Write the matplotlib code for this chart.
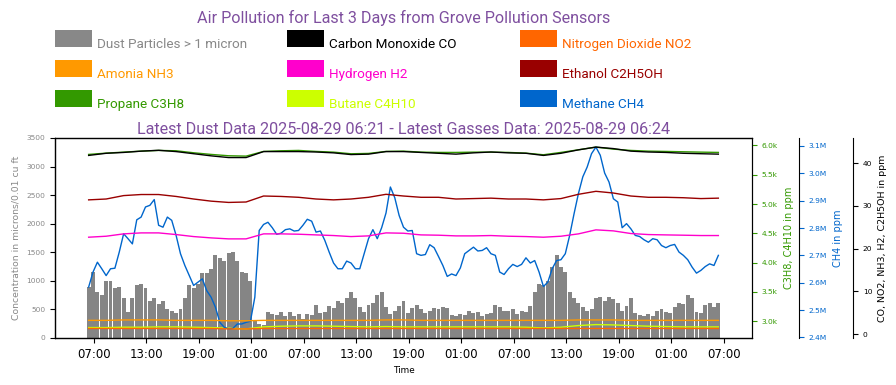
import numpy as np
import pandas as pd
import matplotlib
matplotlib.use('Agg')
import matplotlib.pyplot as plt
import matplotlib.dates as mdates
from matplotlib.patches import Rectangle
from matplotlib.ticker import FuncFormatter

# ---- data ----
start = pd.Timestamp('2025-08-26 06:24')
t_fine = pd.date_range(start, periods=145, freq='30min')   # dust + methane
t_gas = pd.date_range(start, periods=37, freq='2h')        # slow gases

dust = [900, 1150, 800, 750, 1000, 1000, 880, 900, 700, 450, 700, 930, 950, 880, 650, 700, 600, 650, 500, 480, 430, 500, 700, 920,
        870, 950, 1130, 1130, 1200, 1450, 1400, 1350, 1480, 1500, 1350, 1150, 1130, 1000, 300, 250, 220, 450, 420, 400, 450, 380, 450, 380,
        420, 330, 420, 400, 580, 430, 450, 560, 520, 650, 620, 700, 800, 700, 550, 450, 580, 620, 750, 800, 550, 420, 480, 560,
        650, 430, 520, 580, 500, 430, 480, 520, 500, 550, 520, 400, 380, 420, 400, 470, 430, 450, 380, 420, 430, 580, 550, 480,
        480, 500, 420, 470, 450, 560, 800, 950, 920, 1000, 1250, 1450, 1250, 1150, 800, 700, 620, 550, 480, 500, 700, 720, 650, 720, 680,
        620, 480, 560, 700, 430, 400, 380, 420, 380, 480, 500, 450, 430, 550, 620, 600, 750, 700, 450, 430, 580, 620, 550, 620]

# methane in millions of ppm
ch4_m = [2.584, 2.639, 2.675, 2.651, 2.626, 2.651, 2.653, 2.712, 2.779, 2.761, 2.742, 2.830, 2.840, 2.877, 2.883, 2.904, 2.810, 2.803, 2.840, 2.828, 2.773, 2.706, 2.663, 2.626,
         2.590, 2.602, 2.614, 2.571, 2.547, 2.510, 2.455, 2.437, 2.431, 2.433, 2.449, 2.449, 2.455, 2.459, 2.547, 2.791, 2.813, 2.821, 2.801, 2.777, 2.781, 2.794, 2.797, 2.789,
         2.791, 2.810, 2.832, 2.825, 2.785, 2.789, 2.755, 2.712, 2.672, 2.651, 2.651, 2.679, 2.672, 2.651, 2.651, 2.706, 2.761, 2.794, 2.761, 2.801, 2.855, 2.950, 2.911, 2.846,
         2.803, 2.789, 2.791, 2.706, 2.700, 2.703, 2.739, 2.728, 2.696, 2.663, 2.623, 2.632, 2.626, 2.654, 2.706, 2.718, 2.730, 2.716, 2.718, 2.728, 2.706, 2.700, 2.639, 2.630,
         2.651, 2.667, 2.659, 2.667, 2.691, 2.672, 2.681, 2.639, 2.586, 2.602, 2.651, 2.681, 2.684, 2.706, 2.773, 2.852, 2.926, 2.987, 3.023, 3.072, 3.096, 3.066, 3.001, 2.968, 2.907,
         2.895, 2.801, 2.816, 2.797, 2.773, 2.769, 2.757, 2.748, 2.761, 2.757, 2.736, 2.728, 2.736, 2.740, 2.712, 2.700, 2.684, 2.657, 2.635, 2.645, 2.659, 2.669, 2.663, 2.700]

co = [41.8, 42.3, 42.5, 42.8, 43.0, 42.7, 42.2, 41.7, 41.3, 41.3, 42.7, 42.7, 42.7, 42.6, 42.4, 42.0, 42.1, 42.7, 42.7,
      42.5, 42.3, 42.1, 42.4, 42.6, 42.4, 42.3, 41.8, 42.3, 43.1, 43.75, 43.4, 42.8, 42.6, 42.5, 42.3, 42.2, 42.1]
c2h5oh = [31.4, 31.6, 32.4, 32.65, 32.65, 32.2, 31.6, 31.1, 30.8, 30.9, 32.3, 32.2, 32.0, 31.6, 31.4, 31.6, 32.0, 32.7, 32.3,
          32.0, 32.0, 31.6, 31.7, 31.8, 31.6, 31.6, 31.4, 31.7, 32.7, 33.4, 33.0, 32.3, 32.0, 32.0, 31.9, 31.7, 31.8]
h2 = [22.66, 22.89, 23.44, 23.67, 23.67, 23.28, 22.81, 22.5, 22.27, 22.27, 23.44, 23.44, 23.36, 23.2, 23.05, 22.81, 22.97, 23.67, 23.59,
      23.2, 23.13, 22.97, 22.97, 23.05, 22.89, 22.81, 22.66, 22.89, 23.44, 24.38, 24.14, 23.52, 23.28, 23.2, 23.13, 23.05, 23.05]
nh3 = [3.2, 3.2, 3.3, 3.3, 3.3, 3.2, 3.2, 3.2, 3.1, 3.1, 3.2, 3.2, 3.2, 3.2, 3.2, 3.2, 3.2, 3.3, 3.3,
       3.2, 3.2, 3.2, 3.2, 3.2, 3.2, 3.2, 3.2, 3.2, 3.3, 3.3, 3.3, 3.2, 3.2, 3.2, 3.2, 3.2, 3.2]
no2 = [1.3, 1.3, 1.3, 1.3, 1.3, 1.3, 1.3, 1.3, 1.2, 1.2, 1.3, 1.3, 1.3, 1.3, 1.3, 1.3, 1.3, 1.3, 1.3,
       1.3, 1.3, 1.3, 1.3, 1.3, 1.3, 1.3, 1.3, 1.3, 1.3, 1.3, 1.3, 1.3, 1.3, 1.3, 1.3, 1.3, 1.3]
c3h8 = [5847, 5869, 5886, 5903, 5915, 5909, 5875, 5847, 5824, 5818, 5898, 5909, 5915, 5898, 5886, 5858, 5864, 5898, 5903,
        5886, 5881, 5881, 5886, 5886, 5881, 5869, 5841, 5881, 5926, 5972, 5937, 5915, 5903, 5898, 5892, 5886, 5881]
c4h10 = [2892, 2892, 2898, 2898, 2903, 2903, 2898, 2892, 2881, 2869, 2903, 2915, 2920, 2920, 2915, 2909, 2903, 2909, 2903,
         2903, 2903, 2903, 2903, 2903, 2903, 2898, 2886, 2898, 2926, 2943, 2937, 2926, 2915, 2909, 2903, 2903, 2903]

legend_rows = [
    [('Dust Particles > 1 micron', '#888888'), ('Carbon Monoxide CO', '#000000'), ('Nitrogen Dioxide NO2', '#ff6600')],
    [('Amonia NH3', '#ff9900'), ('Hydrogen H2', '#ff00cc'), ('Ethanol C2H5OH', '#990000')],
    [('Propane C3H8', '#339900'), ('Butane C4H10', '#ccff00'), ('Methane CH4', '#0066cc')],
]

title = 'Air Pollution for Last 3 Days from Grove Pollution Sensors'
subtitle = 'Latest Dust Data 2025-08-29 06:21 - Latest Gasses Data: 2025-08-29 06:24'
purple = '#7f4f9f'

W, H = 896, 385
fig = plt.figure(figsize=(W / 100, H / 100), dpi=100)
ax = fig.add_axes([55 / W, 47 / H, 697 / W, 200 / H])

# dust bars
ax.bar(t_fine, dust, width=0.9 / 48, color='#858585', linewidth=0)
ax.set_ylim(0, 3500)
ax.set_ylabel('Concentration in microns/0.01 cu ft', color='#888888', fontsize=6.7)
ax.tick_params(axis='y', labelsize=5.4, labelcolor='#888888')
ax.tick_params(axis='x', labelsize=8.4)
ax.set_xlabel('Time', fontsize=6.4)
ax.xaxis.set_major_locator(mdates.HourLocator(byhour=[1, 7, 13, 19]))
ax.xaxis.set_major_formatter(mdates.DateFormatter('%H:%M'))
ax.set_title(subtitle, color=purple, fontsize=11.6, family='Roboto', pad=3)

# propane / butane
ax2 = ax.twinx()
ax2.plot(t_gas, c3h8, color='#339900', lw=1)
ax2.plot(t_gas, c4h10, color='#ccff00', lw=1)
ax2.yaxis.set_major_formatter(FuncFormatter(lambda v, p: '%.1fk' % (v / 1000)))
ax2.tick_params(axis='y', colors='#339900', labelsize=5.4)
ax2.set_ylabel('C3H8, C4H10 in ppm', color='#339900', fontsize=7)

# methane
ax3 = ax.twinx()
ax3.spines['right'].set_position(('axes', 1.0674))
ax3.plot(t_fine, np.array(ch4_m) * 1e6, color='#0066cc', lw=1)
ax3.yaxis.set_major_formatter(FuncFormatter(lambda v, p: '%.1fM' % (v / 1e6)))
ax3.tick_params(axis='y', colors='#0066cc', labelsize=5.4)
ax3.set_ylabel('CH4 in ppm', color='#0066cc', fontsize=7)

# other gases
ax4 = ax.twinx()
ax4.spines['right'].set_position(('axes', 1.1449))
ax4.plot(t_gas, co, color='#000000', lw=1)
ax4.plot(t_gas, no2, color='#ff6600', lw=1)
ax4.plot(t_gas, nh3, color='#ff9900', lw=1)
ax4.plot(t_gas, h2, color='#ff00cc', lw=1)
ax4.plot(t_gas, c2h5oh, color='#990000', lw=1)
ax4.tick_params(axis='y', labelsize=5.4)
ax4.set_ylabel('CO, NO2, NH3, H2, C2H5OH in ppm', fontsize=6.8)

# header
fig.text(403.5 / W, 1 - 18 / H, title, ha='center', va='center', fontsize=11.6, color=purple, family='Roboto')
col_x = [55, 287, 520]
row_top = [30, 60, 90]
for r, row in enumerate(legend_rows):
    for c, (label, color) in enumerate(row):
        x0, y0 = col_x[c], row_top[r]
        fig.add_artist(Rectangle((x0 / W, 1 - (y0 + 17) / H), 37 / W, 17 / H,
                                 transform=fig.transFigure, color=color, lw=0))
        fig.text((x0 + 42) / W, 1 - (y0 + 18) / H, label, color=color,
                 fontsize=9.7, family='Roboto', va='baseline')

fig.savefig('out.png', dpi=100)
